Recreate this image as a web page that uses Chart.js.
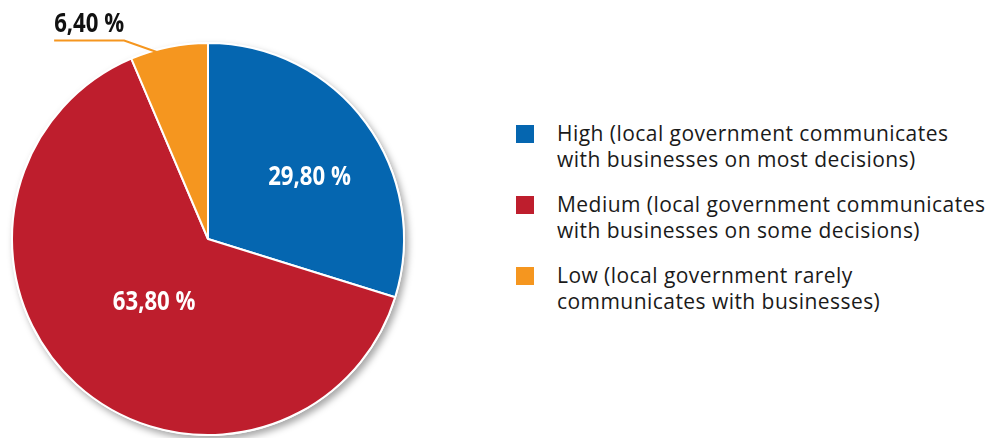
<!DOCTYPE html>
<html>
<head>
<meta charset="utf-8">
<script src="https://cdn.jsdelivr.net/npm/chart.js@4.4.1/dist/chart.umd.min.js"></script>
<style>
  html, body { margin: 0; padding: 0; background: #fff; overflow: hidden; }
  body { width: 995px; height: 438px; position: relative; }
  #pieBox { position: absolute; left: 0; top: 0; width: 416px; height: 448px; }
  #legend { position: absolute; left: 516px; top: 120px; font-family: "Open Sans", "DejaVu Sans", sans-serif; font-size: 21px; letter-spacing: 0.45px; color: #1a1a1a; }
  .item { position: relative; padding-left: 41px; line-height: 26px; margin-bottom: 19px; }
  .item .box { position: absolute; left: 0; top: 5px; width: 18px; height: 18px; }
</style>
</head>
<body>
<div id="pieBox"><canvas id="pieChart"></canvas></div>
<div id="legend"></div>

<script>
// Share of answers per category
const categories = ["High", "Medium", "Low"];
const legendLines = [
    ["High (local government communicates", "with businesses on most decisions)"],
    ["Medium (local government communicates", "with businesses on some decisions)"],
    ["Low (local government rarely", "communicates with businesses)"]
];
const shares = [29.8, 63.8, 6.4];
const colors = ["#0566b0", "#be1e2d", "#f5961f"];

function fmt(v) {
    return v.toFixed(2).replace(".", ",") + " %";
}

// Legend on the right
const legend = document.getElementById("legend");
legendLines.forEach(function (lines, i) {
    const div = document.createElement("div");
    div.className = "item";
    div.innerHTML = '<span class="box" style="background:' + colors[i] + '"></span>' + lines.join("<br>");
    legend.appendChild(div);
});

// Bold, narrowed value text
function drawNarrow(ctx, text, x, y, align, color) {
    ctx.save();
    ctx.font = "bold 27px 'Open Sans', sans-serif";
    ctx.fillStyle = color;
    ctx.textBaseline = "middle";
    ctx.textAlign = align;
    ctx.translate(x, y);
    ctx.scale(0.82, 1);
    ctx.fillText(text, 0, 0);
    ctx.restore();
}

// Soft shadow under the whole disc
const pieShadow = {
    id: "pieShadow",
    beforeDatasetsDraw(chart) {
        const arc = chart.getDatasetMeta(0).data[0];
        if (!arc) return;
        const ctx = chart.ctx;
        ctx.save();
        ctx.shadowColor = "rgba(0,0,0,0.35)";
        ctx.shadowBlur = 7;
        ctx.shadowOffsetX = 3;
        ctx.shadowOffsetY = 4;
        ctx.fillStyle = "#fff";
        ctx.beginPath();
        ctx.arc(arc.x, arc.y, arc.outerRadius + 1, 0, Math.PI * 2);
        ctx.fill();
        ctx.restore();
    }
};

// Value labels: inside for big slices, with a leader line for the small one
const sliceLabels = {
    id: "sliceLabels",
    afterDatasetsDraw(chart, args, opts) {
        const ctx = chart.ctx;
        const meta = chart.getDatasetMeta(0);
        const values = chart.data.datasets[0].data;
        meta.data.forEach(function (arc, i) {
            const p = opts.placement[i];
            const span = arc.endAngle - arc.startAngle;
            const ang = arc.startAngle + span * p.at;
            if (!p.outside) {
                const r = arc.outerRadius * p.r;
                drawNarrow(ctx, fmt(values[i]), arc.x + Math.cos(ang) * r, arc.y + Math.sin(ang) * r, "center", "#fff");
            } else {
                const r = arc.outerRadius - 3;
                const ex = arc.x + Math.cos(ang) * r;
                const ey = arc.y + Math.sin(ang) * r;
                const kx = ex - 34, ky = ey - 12;
                const sx = kx - 70;
                ctx.save();
                ctx.strokeStyle = colors[i];
                ctx.lineWidth = 2;
                ctx.beginPath();
                ctx.moveTo(ex, ey);
                ctx.lineTo(kx, ky);
                ctx.lineTo(sx, ky);
                ctx.stroke();
                ctx.restore();
                drawNarrow(ctx, fmt(values[i]), sx, ky - 16, "left", "#111");
            }
        });
    }
};

new Chart(document.getElementById("pieChart"), {
    type: "pie",
    data: {
        labels: categories,
        datasets: [{
            data: shares,
            backgroundColor: colors,
            borderColor: "#fff",
            borderWidth: 2
        }]
    },
    options: {
        responsive: true,
        maintainAspectRatio: false,
        animation: false,
        layout: { padding: { left: 11, right: 11, top: 42, bottom: 12 } },
        plugins: {
            legend: { display: false },
            tooltip: { enabled: false },
            sliceLabels: {
                placement: [
                    { at: 0.546, r: 0.607 },
                    { at: 0.492, r: 0.425 },
                    { at: 0.35, outside: true }
                ]
            }
        }
    },
    plugins: [pieShadow, sliceLabels]
});
</script>
</body>
</html>
